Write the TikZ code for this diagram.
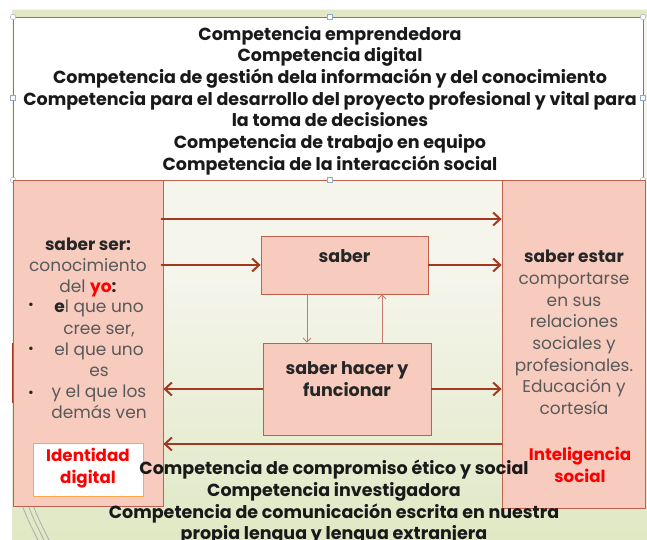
\documentclass[tikz,border=0pt]{standalone}
\usepackage{fontspec}
\setmainfont{Poppins}
\usetikzlibrary{arrows.meta,positioning}
\definecolor{pinkFill}{HTML}{F8CBBF}
\definecolor{pinkLine}{HTML}{C0604D}
\definecolor{arrowRed}{HTML}{A23A22}
\definecolor{softArrow}{HTML}{C97B6E}
\definecolor{bodyGray}{HTML}{595959}
\definecolor{headGray}{HTML}{262626}
\definecolor{slideGreen}{HTML}{E0E8C4}
\definecolor{slideCream}{HTML}{F5F5EC}
\definecolor{handleBlue}{HTML}{8FA9C8}
\tikzset{
  % The boxes of the diagram
  pinkBox/.style = {draw=pinkLine, fill=pinkFill, line width=0.8pt, inner sep=0pt},
  whiteBox/.style = {draw=pinkLine, fill=white, line width=0.8pt, inner sep=0pt},
  % The arrows between the boxes
  thickArrow/.style = {draw=arrowRed, line width=2.6pt,
    -{Straight Barb[length=7pt,width=13pt,line width=2pt]}},
  thinArrow/.style = {draw=softArrow, line width=0.9pt,
    -{Straight Barb[length=4pt,width=8pt,line width=0.9pt]}},
  % The texts
  compText/.style = {font=\fontsize{17.5}{21.7}\selectfont\bfseries,
    text=black!90, align=center, inner sep=0pt},
  bodyText/.style = {font=\fontsize{17}{21.4}\selectfont,
    text=bodyGray, align=center, inner sep=0pt},
  redText/.style = {font=\fontsize{16.7}{22}\selectfont\bfseries,
    text=red, align=center, inner sep=0pt}
         }

\begin{document}
\begin{tikzpicture}[x=1pt,y=-1pt]
    \useasboundingbox (0,0) rectangle (647,540);
    % Slide background
    \shade[top color=slideCream, bottom color=slideGreen, middle color=slideCream]
      (12,10) rectangle (647,540);
    \fill[slideGreen] (12,10) rectangle (647,17);
    % Curves in the lower left corner
    \foreach \curveshift in {0,6,11}
    \draw[gray!60, line width=0.9pt] (22+\curveshift,505) .. controls (28+\curveshift,520) .. (38+\curveshift,540);
    % Red edge behind the left box
    \draw[arrowRed, line width=1.6pt] (12.8,343) -- (12.8,403);
    % Box with the competences
    \node[whiteBox, minimum width=630pt, minimum height=163pt] (comp) at (328,98.5) {};
    % Handles of the selected box
    \foreach \handlex/\handley in {13/17,643/17,13/180,643/180}
    \draw[handleBlue, fill=white] (\handlex,\handley) circle (2.8pt);
    \foreach \handlex/\handley in {330/17,330/180,13/98,643/98}
    \draw[handleBlue, fill=white] (\handlex-2.5,\handley-2.5) rectangle ++(5,5);
    % Boxes left and right
    \node[pinkBox, minimum width=150pt, minimum height=326pt] (ser) at (88,343) {};
    \node[pinkBox, minimum width=143pt, minimum height=328pt] (estar) at (573.5,344) {};
    % Boxes in the middle
    \node[pinkBox, minimum width=167pt, minimum height=58pt] (saber) at (344.5,265) {};
    \node[pinkBox, minimum width=168pt, minimum height=92pt] (hacer) at (347,389) {};
    % Rows of the long arrows
    \coordinate (topRow) at (0,219);
    \coordinate (lowRow) at (0,444);
    % Long arrows
    \draw[thickArrow] ([xshift=-2pt]ser.east |- topRow) -- (estar.west |- topRow);
    \draw[thickArrow] (estar.west |- lowRow) -- (ser.east |- lowRow);
    % Arrows from and to the middle boxes
    \draw[thickArrow] ([xshift=-2pt]ser.east |- saber.west) -- (saber.west);
    \draw[thickArrow] (saber.east) -- (estar.west |- saber.east);
    \draw[thickArrow] (hacer.west) -- (ser.east |- hacer.west);
    \draw[thickArrow] (hacer.east) -- (estar.west |- hacer.east);
    % Thin arrows between saber and saber hacer
    \draw[thinArrow] ([xshift=-37.5pt]saber.south) -- ([xshift=-40pt]hacer.north);
    \draw[thinArrow] ([xshift=35pt]hacer.north) -- ([xshift=37.5pt]saber.south);
    % Competences on top
    \node[compText] (compTop) at (330,100.5) {Competencia emprendedora\\
      Competencia digital\\
      Competencia de gestión dela información y del conocimiento\\
      Competencia para el desarrollo del proyecto profesional y vital para\\
      la toma de decisiones\\
      Competencia de trabajo en equipo\\
      Competencia de la interacción social};
    % Texts in the middle boxes
    \node[compText, text=headGray] (saberText) at (344.5,256) {saber};
    \node[compText, text=headGray] (hacerText) at (347,379) {saber hacer y\\funcionar};
    % Text of the left box
    \node[bodyText] (serHead) at (88,267.5) {{\bfseries\color{headGray}saber ser:}\\
      conocimiento\\
      del {\bfseries\color{red}yo}{\bfseries\color{headGray}:}};
    \node[bodyText, font=\fontsize{17}{21.1}\selectfont] (serList) at (99,359.5) {{\bfseries\color{headGray}e}l que uno\\
      cree ser,\\
      el que uno\\
      es\\
      y el que los\\
      demás ven};
    % Bullets of the list
    \foreach \bullety in {306,350,394}
    \node[bodyText, text=headGray, font=\fontsize{14}{14}\selectfont] at (31,\bullety) {•};
    % Identidad digital
    \node[whiteBox, draw=orange!70, minimum width=110pt, minimum height=53pt] (idBox) at (88,469.5) {};
    \node[redText] (idText) at (88,468.5) {Identidad\\digital};
    % Text of the right box
    \node[bodyText, font=\fontsize{17}{21.7}\selectfont] (estarText) at (574,332.5) {{\bfseries\color{headGray}saber estar}\\
      comportarse\\
      en sus\\
      relaciones\\
      sociales y\\
      profesionales.\\
      Educación y\\
      cortesía};
    \node[redText] (intText) at (580,464.5) {Inteligencia\\social};
    % Competences at the bottom
    \node[compText] (compLow) at (334,502.5) {Competencia de compromiso ético y social\\
      Competencia investigadora\\
      Competencia de comunicación escrita en nuestra\\
      propia lengua y lengua extranjera};
\end{tikzpicture}
\end{document}
